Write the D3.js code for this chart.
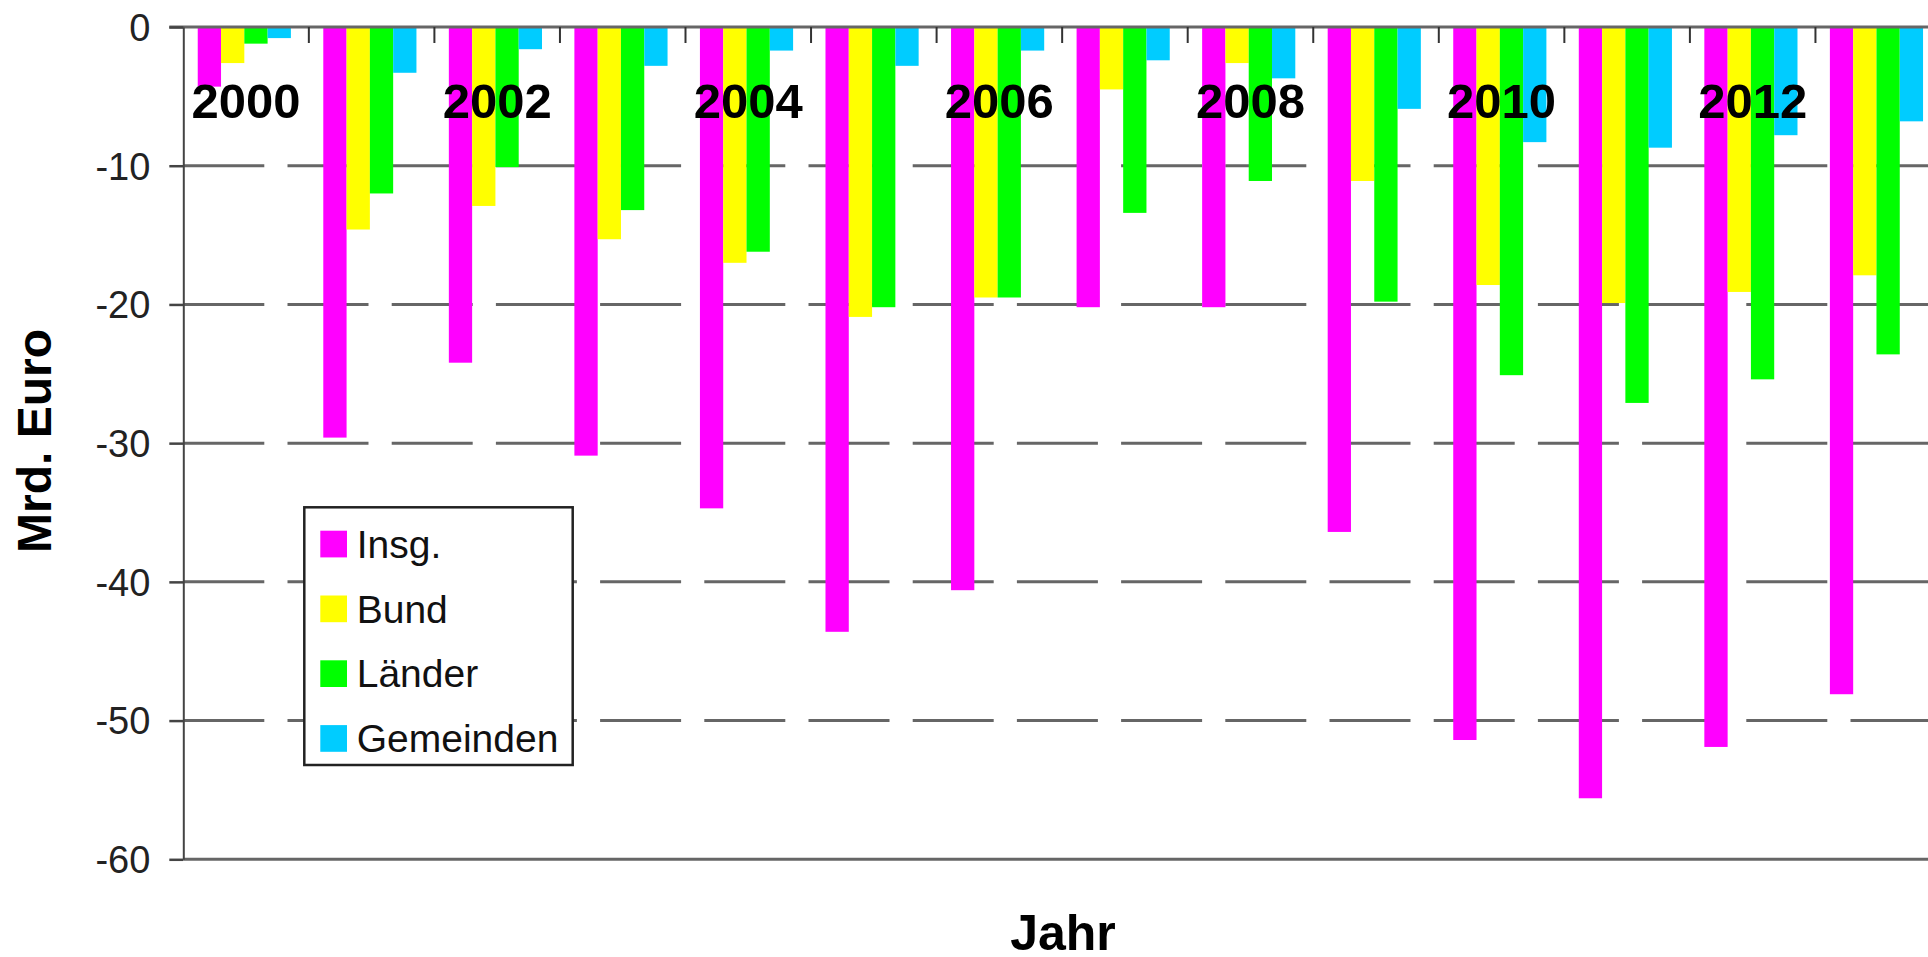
<!DOCTYPE html>
<html>
<head>
<meta charset="utf-8">
<script src="https://cdn.jsdelivr.net/npm/d3@7"></script>
<style>
  html, body { margin: 0; padding: 0; background: #fff; }
  svg { display: block; font-family: "Liberation Sans", Arial, sans-serif; }
</style>
</head>
<body>
<svg id="chart" width="1928" height="957"></svg>
<script>
// Finanzierungssalden der Gebietskörperschaften, Mrd. Euro
const years = [2000, 2001, 2002, 2003, 2004, 2005, 2006, 2007, 2008, 2009, 2010, 2011, 2012, 2013];
const seriesNames = ["Insg.", "Bund", "Länder", "Gemeinden"];
const insg      = [-4.3, -29.6, -24.2, -30.9, -34.7, -43.6, -40.6, -20.2, -20.2, -36.4, -51.4, -55.6, -51.9, -48.1];
const bund      = [-2.6, -14.6, -12.9, -15.3, -17.0, -20.9, -19.5, -4.5, -2.6, -11.1, -18.6, -19.9, -19.1, -17.9];
const laender   = [-1.2, -12.0, -10.1, -13.2, -16.2, -20.2, -19.5, -13.4, -11.1, -19.8, -25.1, -27.1, -25.4, -23.6];
const gemeinden = [-0.8, -3.3, -1.6, -2.8, -1.7, -2.8, -1.7, -2.4, -3.7, -5.9, -8.3, -8.7, -7.8, -6.8];
const yTicks = [0, -10, -20, -30, -40, -50, -60];
const yearLabels = [2000, 2002, 2004, 2006, 2008, 2010, 2012];
const colors = ["#ff00ff", "#ffff00", "#00ff00", "#00ccff"];

const seriesValues = [insg, bund, laender, gemeinden];
const rows = years.map((yr, i) => ({
  year: yr,
  values: seriesNames.map((s, k) => ({ key: s, value: seriesValues[k][i] }))
}));

const svg = d3.select("#chart");
const axisX = 183.3;
const catW = 125.55;

const x0 = d3.scaleBand().domain(years).range([axisX, axisX + years.length * catW]).padding(0);
const bw = x0.bandwidth();
const x1 = d3.scaleBand().domain(seriesNames).range([0.115 * bw, 0.857 * bw]).padding(0);
const y = d3.scaleLinear().domain([-60, 0]).range([859.3, 27.0]);
const color = d3.scaleOrdinal().domain(seriesNames).range(colors);

// dashed horizontal gridlines
svg.append("g")
  .selectAll("line")
  .data(yTicks.filter(t => t !== 0 && t !== -60))
  .join("line")
  .attr("x1", axisX).attr("x2", 1928)
  .attr("y1", d => y(d)).attr("y2", d => y(d))
  .attr("stroke", "#666").attr("stroke-width", 3)
  .attr("stroke-dasharray", "81 23.2");

// bottom frame line
svg.append("line")
  .attr("x1", axisX).attr("x2", 1928)
  .attr("y1", y(-60)).attr("y2", y(-60))
  .attr("stroke", "#666").attr("stroke-width", 3);

// bars
svg.append("g")
  .selectAll("g")
  .data(rows)
  .join("g")
  .attr("transform", d => `translate(${x0(d.year)},0)`)
  .selectAll("rect")
  .data(d => d.values)
  .join("rect")
  .attr("x", d => x1(d.key))
  .attr("width", x1.bandwidth())
  .attr("y", y(0))
  .attr("height", d => y(d.value) - y(0))
  .attr("fill", d => color(d.key));

// zero line (category axis at the top)
svg.append("line")
  .attr("x1", axisX - 14).attr("x2", 1928)
  .attr("y1", y(0)).attr("y2", y(0))
  .attr("stroke", "#666").attr("stroke-width", 3);

// category boundary ticks pointing into the plot
svg.append("g")
  .selectAll("line")
  .data(years.slice(1))
  .join("line")
  .attr("x1", d => x0(d)).attr("x2", d => x0(d))
  .attr("y1", y(0)).attr("y2", y(0) + 16)
  .attr("stroke", "#333").attr("stroke-width", 2);

// value axis
const yAxis = svg.append("g")
  .attr("transform", `translate(${axisX},0)`)
  .call(d3.axisLeft(y).tickValues(yTicks).tickSize(14).tickSizeOuter(0).tickPadding(19)
        .tickFormat(d3.format("d")));
yAxis.select(".domain").attr("stroke", "#444").attr("stroke-width", 2);
yAxis.selectAll(".tick line").attr("stroke", "#444").attr("stroke-width", 2.5);
yAxis.selectAll(".tick text")
  .attr("font-size", 38)
  .attr("font-family", "'Liberation Sans', Arial, sans-serif")
  .attr("fill", "#222")
  .attr("dy", "0.35em")
  .text(d => d === 0 ? "0" : "-" + Math.abs(d));

// year labels
svg.append("g")
  .selectAll("text")
  .data(yearLabels)
  .join("text")
  .attr("x", d => x0(d) + bw / 2)
  .attr("y", 118)
  .attr("text-anchor", "middle")
  .attr("font-size", 49)
  .attr("font-weight", "bold")
  .attr("fill", "#000")
  .text(d => d);

// axis titles
svg.append("text")
  .attr("transform", "translate(51,441) rotate(-90)")
  .attr("text-anchor", "middle")
  .attr("font-size", 48)
  .attr("font-weight", "bold")
  .attr("fill", "#000")
  .text("Mrd. Euro");

svg.append("text")
  .attr("x", 1063).attr("y", 950)
  .attr("text-anchor", "middle")
  .attr("font-size", 50)
  .attr("font-weight", "bold")
  .attr("fill", "#000")
  .text("Jahr");

// legend
const legend = svg.append("g").attr("transform", "translate(304.3,507.3)");
legend.append("rect")
  .attr("width", 268.4).attr("height", 257.7)
  .attr("fill", "#fff").attr("stroke", "#222").attr("stroke-width", 2.5);
const item = legend.selectAll("g.item")
  .data(seriesNames)
  .join("g")
  .attr("class", "item")
  .attr("transform", (d, i) => `translate(16,${23.4 + i * 64.8})`);
item.append("rect")
  .attr("width", 26.7).attr("height", 26.7)
  .attr("fill", d => color(d));
item.append("text")
  .attr("x", 36.4).attr("y", 27)
  .attr("font-size", 39)
  .attr("fill", "#111")
  .text(d => d);
</script>
</body>
</html>
